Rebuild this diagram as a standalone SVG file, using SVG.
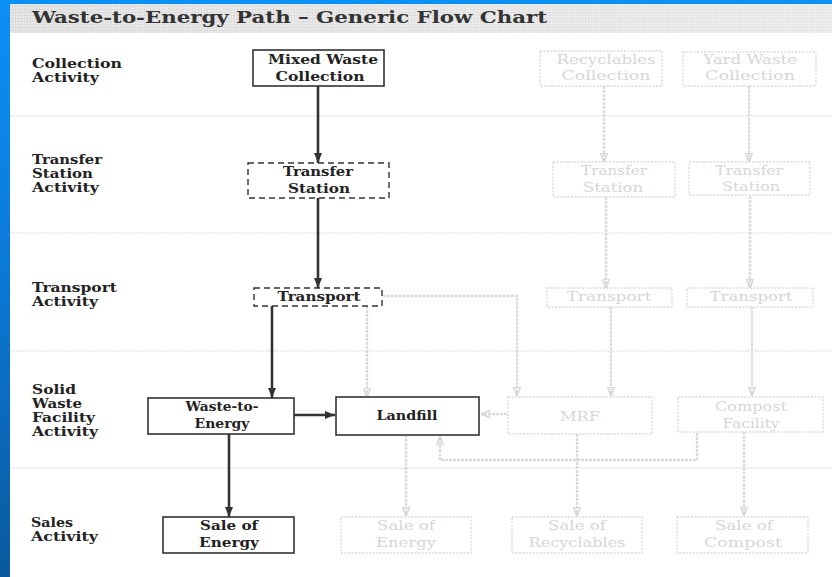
<svg xmlns="http://www.w3.org/2000/svg" width="832" height="577" viewBox="0 0 832 577">
<defs>
<linearGradient id="blueSide" x1="0" y1="0" x2="0" y2="1">
<stop offset="0" stop-color="#0b90f6"/>
<stop offset="0.5" stop-color="#0a78d4"/>
<stop offset="1" stop-color="#0a5a9c"/>
</linearGradient>
<pattern id="hatch" width="3" height="3" patternUnits="userSpaceOnUse">
<rect width="3" height="3" fill="#e9e9e9"/>
<rect width="3" height="1" fill="#d9d9d9"/>
<rect width="1" height="3" fill="#dcdcdc"/>
</pattern>
<linearGradient id="fadeBar" x1="0" y1="0" x2="1" y2="0">
<stop offset="0" stop-color="#ffffff" stop-opacity="0"/>
<stop offset="1" stop-color="#ffffff" stop-opacity="0.3"/>
</linearGradient>
<marker id="ahDark" viewBox="0 0 10 10" refX="10" refY="5" markerWidth="10" markerHeight="10" markerUnits="userSpaceOnUse" orient="auto">
<path d="M0,1 L10,5 L0,9 Z" fill="#333"/>
</marker>
<marker id="ahGrey" viewBox="0 0 10 10" refX="10" refY="5" markerWidth="9" markerHeight="9" markerUnits="userSpaceOnUse" orient="auto">
<path d="M0,1 L10,5 L0,9 Z" fill="none" stroke="#d4d4d4" stroke-width="1.5"/>
</marker>
<style>
.title{font-family:"DejaVu Serif","Liberation Serif",serif;font-weight:bold;font-size:16px;fill:#333}
.row{font-family:"DejaVu Serif","Liberation Serif",serif;font-weight:bold;font-size:12.5px;fill:#222}
.nt{font-family:"DejaVu Serif","Liberation Serif",serif;font-weight:bold;font-size:12.5px;fill:#222;text-anchor:middle}
.gt{font-family:"DejaVu Serif","Liberation Serif",serif;font-size:12.5px;fill:#d6d6d6;text-anchor:middle}
.box{fill:#fff;stroke:#333;stroke-width:1.6}
.dbox{fill:#fff;stroke:#333;stroke-width:1.4;stroke-dasharray:6 4}
.gbox{fill:#fff;stroke:#dadada;stroke-width:1.4;stroke-dasharray:2 1.5}
.sep{stroke:#d9d9d9;stroke-width:1;stroke-dasharray:2 1}
.dk{fill:none;stroke:#333;stroke-width:2.6;marker-end:url(#ahDark)}
.gy{fill:none;stroke:#dbdbdb;stroke-width:2.4;stroke-dasharray:3 1;marker-end:url(#ahGrey)}
</style>
</defs>

<g id="background">
<rect x="0" y="0" width="832" height="577" fill="#fff"/>
<rect x="10" y="4" width="822" height="29" fill="url(#hatch)"/>
<rect x="10" y="4" width="822" height="29" fill="url(#fadeBar)"/>
<rect x="0" y="0" width="832" height="4" fill="#0b90f6"/>
<rect x="0" y="0" width="10" height="577" fill="url(#blueSide)"/>
<text class="title" x="32" y="23" textLength="515" lengthAdjust="spacingAndGlyphs">Waste-to-Energy Path – Generic Flow Chart</text>
</g>

<g id="separators">
<line class="sep" x1="10" y1="116" x2="832" y2="116"/>
<line class="sep" x1="10" y1="233" x2="832" y2="233"/>
<line class="sep" x1="10" y1="351" x2="832" y2="351"/>
<line class="sep" x1="10" y1="468" x2="832" y2="468"/>
</g>

<g id="row-labels">
<text class="row" x="32" y="68" textLength="90" lengthAdjust="spacingAndGlyphs">Collection</text>
<text class="row" x="32" y="82" textLength="67" lengthAdjust="spacingAndGlyphs">Activity</text>
<text class="row" x="32" y="164" textLength="70" lengthAdjust="spacingAndGlyphs">Transfer</text>
<text class="row" x="32" y="178" textLength="61" lengthAdjust="spacingAndGlyphs">Station</text>
<text class="row" x="32" y="192" textLength="67" lengthAdjust="spacingAndGlyphs">Activity</text>
<text class="row" x="32" y="292" textLength="85" lengthAdjust="spacingAndGlyphs">Transport</text>
<text class="row" x="32" y="306" textLength="66" lengthAdjust="spacingAndGlyphs">Activity</text>
<text class="row" x="32" y="394" textLength="44" lengthAdjust="spacingAndGlyphs">Solid</text>
<text class="row" x="32" y="408" textLength="50" lengthAdjust="spacingAndGlyphs">Waste</text>
<text class="row" x="32" y="422" textLength="63" lengthAdjust="spacingAndGlyphs">Facility</text>
<text class="row" x="32" y="436" textLength="66" lengthAdjust="spacingAndGlyphs">Activity</text>
<text class="row" x="31" y="527" textLength="42" lengthAdjust="spacingAndGlyphs">Sales</text>
<text class="row" x="31" y="541" textLength="67" lengthAdjust="spacingAndGlyphs">Activity</text>
</g>

<g id="connectors">
<line class="dk" x1="318" y1="86" x2="318" y2="163"/>
<line class="dk" x1="318" y1="198" x2="318" y2="288"/>
<line class="dk" x1="272" y1="306" x2="272" y2="398"/>
<line class="dk" x1="294" y1="415" x2="335" y2="415"/>
<line class="dk" x1="229" y1="434" x2="229" y2="517"/>

<line class="gy" x1="604" y1="86" x2="604" y2="162"/>
<line class="gy" x1="749" y1="86" x2="749" y2="162"/>
<line class="gy" x1="606" y1="197" x2="606" y2="288"/>
<line class="gy" x1="750" y1="196" x2="750" y2="288"/>
<polyline class="gy" points="383,296 517,296 517,396"/>
<line class="gy" x1="367" y1="306" x2="367" y2="397"/>
<line class="gy" x1="611" y1="307" x2="611" y2="396"/>
<line class="gy" x1="752" y1="307" x2="752" y2="396"/>
<line class="gy" x1="507" y1="414" x2="481" y2="414"/>
<polyline class="gy" points="697,433 697,460 440,460 440,436"/>
<line class="gy" x1="406" y1="435" x2="406" y2="516"/>
<line class="gy" x1="577" y1="434" x2="577" y2="516"/>
<line class="gy" x1="744" y1="432" x2="744" y2="516"/>
</g>

<g id="mixed-waste-collection">
<rect class="box" x="253" y="50" width="131" height="36"/>
<text class="nt" x="323" y="64" textLength="110" lengthAdjust="spacingAndGlyphs">Mixed Waste</text>
<text class="nt" x="320" y="81" textLength="89" lengthAdjust="spacingAndGlyphs">Collection</text>
</g>
<g id="transfer-station">
<rect class="dbox" x="248" y="163" width="141" height="35"/>
<text class="nt" x="318" y="176" textLength="70" lengthAdjust="spacingAndGlyphs">Transfer</text>
<text class="nt" x="319" y="193" textLength="62" lengthAdjust="spacingAndGlyphs">Station</text>
</g>
<g id="transport">
<rect class="dbox" x="254" y="288" width="128" height="18"/>
<text class="nt" x="319" y="301" textLength="83" lengthAdjust="spacingAndGlyphs">Transport</text>
</g>
<g id="waste-to-energy">
<rect class="box" x="148" y="398" width="146" height="36"/>
<text class="nt" x="222" y="411" textLength="73" lengthAdjust="spacingAndGlyphs">Waste-to-</text>
<text class="nt" x="222" y="428" textLength="55" lengthAdjust="spacingAndGlyphs">Energy</text>
</g>
<g id="landfill">
<rect class="box" x="336" y="397" width="143" height="38"/>
<text class="nt" x="407" y="420" textLength="61" lengthAdjust="spacingAndGlyphs">Landfill</text>
</g>
<g id="sale-of-energy">
<rect class="box" x="163" y="517" width="131" height="36"/>
<text class="nt" x="229" y="530" textLength="58" lengthAdjust="spacingAndGlyphs">Sale of</text>
<text class="nt" x="229" y="547" textLength="60" lengthAdjust="spacingAndGlyphs">Energy</text>
</g>

<g id="recyclables-collection">
<rect class="gbox" x="540" y="51" width="122" height="35"/>
<text class="gt" x="606" y="64" textLength="99" lengthAdjust="spacingAndGlyphs">Recyclables</text>
<text class="gt" x="606" y="80" textLength="89" lengthAdjust="spacingAndGlyphs">Collection</text>
</g>
<g id="yard-waste-collection">
<rect class="gbox" x="683" y="52" width="133" height="34"/>
<text class="gt" x="750" y="64" textLength="94" lengthAdjust="spacingAndGlyphs">Yard Waste</text>
<text class="gt" x="750" y="80" textLength="90" lengthAdjust="spacingAndGlyphs">Collection</text>
</g>
<g id="transfer-station-2">
<rect class="gbox" x="553" y="162" width="122" height="35"/>
<text class="gt" x="614" y="175" textLength="66" lengthAdjust="spacingAndGlyphs">Transfer</text>
<text class="gt" x="613" y="192" textLength="60" lengthAdjust="spacingAndGlyphs">Station</text>
</g>
<g id="transfer-station-3">
<rect class="gbox" x="689" y="162" width="121" height="33"/>
<text class="gt" x="749" y="175" textLength="68" lengthAdjust="spacingAndGlyphs">Transfer</text>
<text class="gt" x="751" y="191" textLength="58" lengthAdjust="spacingAndGlyphs">Station</text>
</g>
<g id="transport-2">
<rect class="gbox" x="547" y="288" width="125" height="19"/>
<text class="gt" x="609" y="301" textLength="85" lengthAdjust="spacingAndGlyphs">Transport</text>
</g>
<g id="transport-3">
<rect class="gbox" x="687" y="288" width="126" height="19"/>
<text class="gt" x="751" y="301" textLength="83" lengthAdjust="spacingAndGlyphs">Transport</text>
</g>
<g id="mrf">
<rect class="gbox" x="508" y="397" width="144" height="37"/>
<text class="gt" x="580" y="421" textLength="40" lengthAdjust="spacingAndGlyphs">MRF</text>
</g>
<g id="compost-facility">
<rect class="gbox" x="678" y="397" width="145" height="35"/>
<text class="gt" x="751" y="411" textLength="72" lengthAdjust="spacingAndGlyphs">Compost</text>
<text class="gt" x="751" y="428" textLength="57" lengthAdjust="spacingAndGlyphs">Facility</text>
</g>
<g id="sale-of-energy-2">
<rect class="gbox" x="341" y="517" width="130" height="36"/>
<text class="gt" x="406" y="530" textLength="58" lengthAdjust="spacingAndGlyphs">Sale of</text>
<text class="gt" x="406" y="547" textLength="60" lengthAdjust="spacingAndGlyphs">Energy</text>
</g>
<g id="sale-of-recyclables">
<rect class="gbox" x="512" y="517" width="130" height="36"/>
<text class="gt" x="577" y="530" textLength="58" lengthAdjust="spacingAndGlyphs">Sale of</text>
<text class="gt" x="577" y="547" textLength="97" lengthAdjust="spacingAndGlyphs">Recyclables</text>
</g>
<g id="sale-of-compost">
<rect class="gbox" x="677" y="517" width="131" height="36"/>
<text class="gt" x="744" y="530" textLength="58" lengthAdjust="spacingAndGlyphs">Sale of</text>
<text class="gt" x="743" y="547" textLength="78" lengthAdjust="spacingAndGlyphs">Compost</text>
</g>
</svg>
